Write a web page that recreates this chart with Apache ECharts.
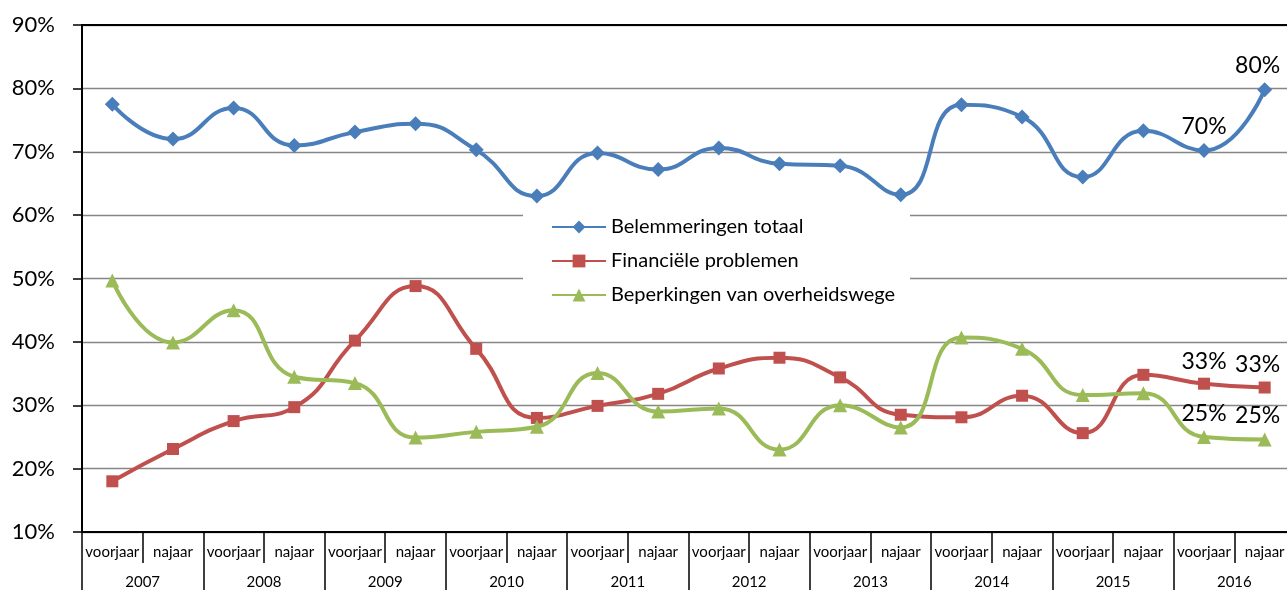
<!DOCTYPE html>
<html>
<head>
<meta charset="utf-8">
<script src="https://cdn.jsdelivr.net/npm/echarts@6.0.0/dist/echarts.min.js"></script>
<style>
  html, body { margin: 0; padding: 0; background: #fff; }
  #chart { width: 1287px; height: 590px; }
</style>
</head>
<body>
<div id="chart"></div>
<script>
const years = ['2007', '2008', '2009', '2010', '2011', '2012', '2013', '2014', '2015', '2016']
const halves = ['voorjaar', 'najaar']
const periods = years.flatMap(() => halves)

const totaal = [77.5, 72.0, 76.9, 71.0, 73.1, 74.4, 70.3, 63.0, 69.8, 67.2, 70.6, 68.1, 67.8, 63.2, 77.4, 75.5, 66.0, 73.3, 70.2, 79.8]
const financieel = [18.0, 23.1, 27.5, 29.7, 40.2, 48.8, 38.9, 28.0, 29.9, 31.8, 35.8, 37.5, 34.4, 28.5, 28.1, 31.5, 25.6, 34.8, 33.4, 32.8]
const overheid = [49.7, 39.9, 45.0, 34.5, 33.5, 24.9, 25.8, 26.6, 35.1, 29.0, 29.5, 23.0, 30.0, 26.5, 40.7, 38.9, 31.6, 31.9, 25.0, 24.6]

const seriesNames = ['Belemmeringen totaal', 'Financiële problemen', 'Beperkingen van overheidswege']
const colors = ['#4A7EBB', '#C0504D', '#9BBB59']

const FONT = 'Lato, "Open Sans", sans-serif'

// labels only on the last two points
const withLabels = (arr) => arr.map((v, i) => {
  if (i < arr.length - 2) return v
  return {
    value: v,
    label: {
      show: true,
      position: 'top',
      distance: 5,
      offset: i === arr.length - 1 ? [-7, 0] : [0, 0],
      formatter: (p) => Math.round(p.value) + '%',
      color: '#000',
      fontSize: 23,
      fontFamily: FONT
    }
  }
})

const makeSeries = (idx, data, symbol, size) => ({
  name: seriesNames[idx],
  type: 'line',
  xAxisIndex: 0,
  yAxisIndex: 0,
  data: withLabels(data),
  smooth: 0.5,
  symbol: symbol,
  symbolSize: size,
  lineStyle: { color: colors[idx], width: 4 },
  itemStyle: { color: colors[idx] },
  z: 3 + idx
})

const chart = echarts.init(document.getElementById('chart'))

const option = {
  animation: false,
  textStyle: { fontFamily: FONT },
  grid: { left: 82, top: 25, width: 1213, bottom: 58, outerBoundsMode: 'none', containLabel: false },
  graphic: [
    {
      type: 'rect',
      z: 1,
      shape: { x: 523, y: 200, width: 387, height: 110 },
      style: { fill: '#fff' }
    }
  ],
  legend: {
    orient: 'vertical',
    left: 551,
    top: 216,
    padding: 0,
    itemWidth: 54,
    itemHeight: 16,
    itemGap: 12,
    z: 10,
    textStyle: { color: '#000', fontSize: 20, lineHeight: 22, fontFamily: FONT },
    data: seriesNames
  },
  xAxis: [
    {
      type: 'category',
      position: 'bottom',
      data: periods,
      boundaryGap: true,
      axisLine: { show: true, lineStyle: { color: '#000', width: 2 } },
      axisTick: { show: true, interval: 0, length: 31, lineStyle: { color: '#000', width: 1.5 } },
      axisLabel: { interval: 0, margin: 13, color: '#000', fontSize: 15, fontFamily: FONT },
      splitLine: { show: false }
    },
    {
      type: 'category',
      position: 'bottom',
      data: years,
      boundaryGap: true,
      axisLine: { show: false },
      axisTick: { show: true, interval: 0, length: 60, lineStyle: { color: '#000', width: 1.5 } },
      axisLabel: { interval: 0, margin: 43, color: '#000', fontSize: 15, fontFamily: FONT },
      splitLine: { show: false }
    },
    {
      type: 'category',
      position: 'top',
      data: periods,
      axisLine: { show: true, lineStyle: { color: '#000', width: 2 } },
      axisTick: { show: false },
      axisLabel: { show: false },
      splitLine: { show: false }
    }
  ],
  yAxis: {
    type: 'value',
    min: 10,
    max: 90,
    interval: 10,
    axisLine: { show: true, lineStyle: { color: '#000', width: 2 } },
    axisTick: { show: true, length: 9, lineStyle: { color: '#000', width: 1.5 } },
    axisLabel: { formatter: '{value}%', margin: 27, color: '#000', fontSize: 22, fontFamily: FONT },
    splitLine: { show: true, lineStyle: { color: '#868686', width: 1.3 } }
  },
  series: [
    makeSeries(0, totaal, 'diamond', 15),
    makeSeries(1, financieel, 'rect', 12),
    makeSeries(2, overheid, 'triangle', 14)
  ]
}

chart.setOption(option)
</script>
</body>
</html>
